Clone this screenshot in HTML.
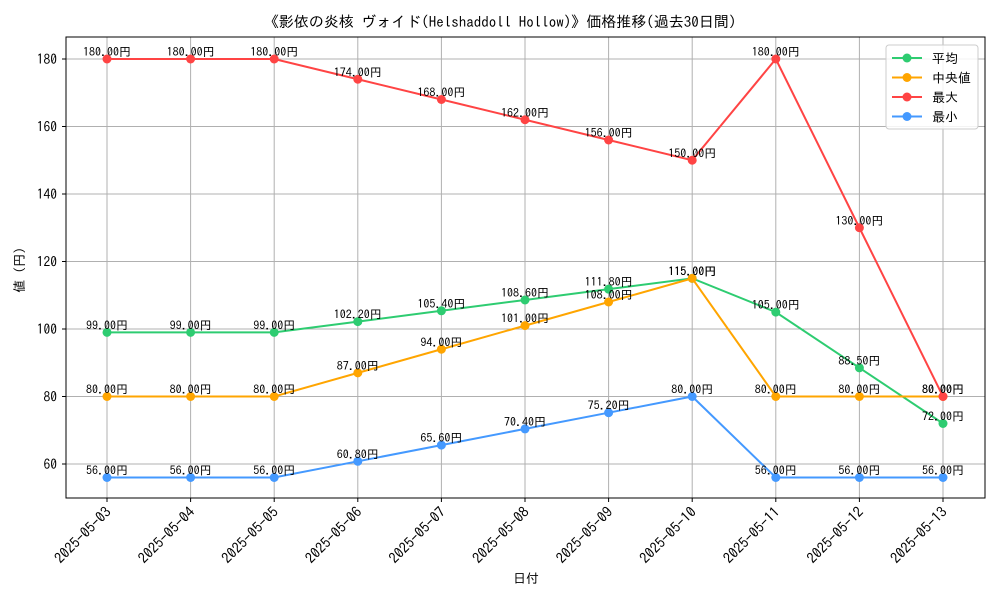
<!DOCTYPE html>
<html><head><meta charset="utf-8"><style>
body{margin:0;background:#fff}
svg{font-family:"IPAGothic","Liberation Sans","Noto Sans CJK JP",sans-serif}
</style></head><body>
<svg id="chart" width="1000" height="600">
<text x="500" y="27" text-anchor="middle" font-size="15">《影依の炎核 ヴォイド(Helshaddoll Hollow)》価格推移(過去30日間)</text>
<text x="526" y="583" text-anchor="middle" font-size="13">日付</text>
<text transform="translate(24,270) rotate(-90)" text-anchor="middle" font-size="13">値 (円)</text>
<g id="grid"></g><g id="series"></g>
<rect x="66" y="37" width="919" height="461" fill="none" stroke="#000" stroke-width="1"/>
<g id="axes"></g>
<g>
<rect x="886" y="45" width="92" height="84" rx="3" fill="#fff" fill-opacity="0.85" stroke="#ccc"/>
<g id="legend"></g>
</g>
</svg>
<script>
const dates=["2025-05-03","2025-05-04","2025-05-05","2025-05-06","2025-05-07","2025-05-08","2025-05-09","2025-05-10","2025-05-11","2025-05-12","2025-05-13"];
const avgVals=[99,99,99,102.2,105.4,108.6,111.8,115,105,88.5,72];
const medVals=[80,80,80,87,94,101,108,115,80,80,80];
const maxVals=[180,180,180,174,168,162,156,150,180,130,80];
const minVals=[56,56,56,60.8,65.6,70.4,75.2,80,56,56,56];
const yTicks=[60,80,100,120,140,160,180];
const seriesNames=["平均","中央値","最大","最小"];
const NS="http://www.w3.org/2000/svg";
const X=i=>107+i*83.6;
const Y=v=>464-(v-60)*3.375;
function mk(tag,attrs,parent){const e=document.createElementNS(NS,tag);for(const k in attrs)e.setAttribute(k,attrs[k]);parent.appendChild(e);return e;}
const grid=document.getElementById('grid'),axes=document.getElementById('axes'),ser=document.getElementById('series'),leg=document.getElementById('legend');
dates.forEach((d,i)=>{
 const g=mk('line',{x1:X(i),x2:X(i),y1:37,y2:498,stroke:'#b0b0b0','stroke-width':1},grid);
 
 
 mk('line',{x1:X(i),x2:X(i),y1:498,y2:502,stroke:'#000'},axes);
 const t=mk('text',{x:0,y:0,'text-anchor':'end','font-size':14.5,transform:`translate(${X(i)+5},${513}) rotate(-45)`},axes);
 t.textContent=d;
 
 
});
yTicks.forEach(v=>{
 const g=mk('line',{x1:66,x2:985,y1:Y(v),y2:Y(v),stroke:'#b0b0b0','stroke-width':1},grid);
 
 
 mk('line',{x1:62,x2:66,y1:Y(v),y2:Y(v),stroke:'#000'},axes);
 const t=mk('text',{x:57,y:Y(v)+5,'text-anchor':'end','font-size':13.5},axes);
 t.textContent=v;
 
 
});
const all=[[avgVals,'#2ecc71'],[medVals,'#ffa500'],[maxVals,'#ff4444'],[minVals,'#4499ff']];
all.forEach(([vals,col],si)=>{
 const g=mk('g',{},ser);
 
 
 mk('polyline',{points:vals.map((v,i)=>X(i)+','+Y(v)).join(' '),fill:'none',stroke:col,'stroke-width':2},g);
 vals.forEach((v,i)=>{
  const c=mk('circle',{cx:X(i),cy:Y(v),r:4.5,fill:col},g);
  
  
  const t=mk('text',{x:X(i),y:Y(v)-3,'text-anchor':'middle','font-size':12},g);
  t.textContent=v.toFixed(2)+'円';
  
  
 });
 const ly=58+si*19.5;
 mk('line',{x1:892,x2:922,y1:ly,y2:ly,stroke:col,'stroke-width':2},leg);
 mk('circle',{cx:907,cy:ly,r:4.5,fill:col},leg);
 const lt=mk('text',{x:932,y:ly+5,'font-size':13},leg);
 lt.textContent=(si==1?' ':'')+seriesNames[si];
 
 
});
</script>
</body></html>
